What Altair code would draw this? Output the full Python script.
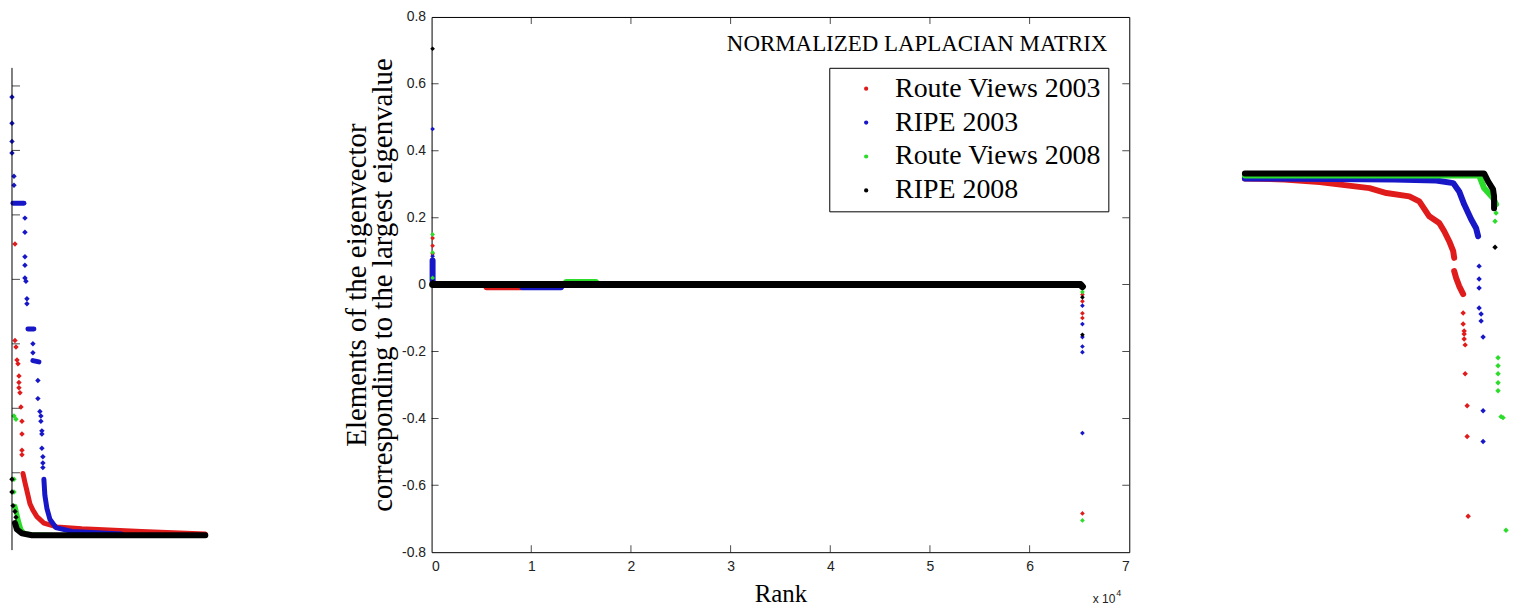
import altair as alt
import pandas as pd

# ---------------- data ----------------
SERIES = ["Route Views 2003", "RIPE 2003", "Route Views 2008", "RIPE 2008"]
COLORS = ["#e01b1b", "#1717c8", "#2bdc2b", "#000000"]

X_TICKS = [0, 10000, 20000, 30000, 40000, 50000, 60000, 70000]
Y_TICKS = [-0.8, -0.6, -0.4, -0.2, 0.0, 0.2, 0.4, 0.6, 0.8]
INSET_TICKS = [0.01, 0.02, 0.03, 0.04, 0.05, 0.06, 0.07]
INSET_AXIS = [(0, -0.002), (0, 0.0728)]

# main panel: (rank, element value)
M_RV03_DOTS = [(100, 0.139), (100, 0.116), (100, 0.092), (65300, -0.03), (65300, -0.05),
               (65300, -0.086), (65300, -0.10), (65300, -0.684)]
M_RV03_RUNS = [[(150, 0.0), (5400, 0.0), (5500, -0.008), (9000, -0.008), (9100, 0.0), (65100, 0.0)]]
M_RIPE03_DOTS = [(100, 0.465), (100, 0.085), (65300, -0.063), (65300, -0.118), (65300, -0.157),
                 (65300, -0.185), (65300, -0.202), (65300, -0.444)]
M_RIPE03_RUNS = [[(100, 0.072), (100, 0.012), (200, 0.0)],
                 [(150, 0.0), (9000, 0.0), (9100, -0.008), (13000, -0.008), (13100, 0.0), (65100, 0.0)]]
M_RV08_DOTS = [(100, 0.150), (100, 0.096), (100, 0.020), (65300, -0.012), (65300, -0.022), (65300, -0.705)]
M_RV08_RUNS = [[(150, 0.0), (13400, 0.0), (13500, 0.008), (16500, 0.008), (16600, 0.0), (65100, 0.0)]]
M_RIPE08_DOTS = [(100, 0.705), (100, 0.008), (65300, -0.038), (65300, -0.150)]
M_RIPE08_RUNS = [[(100, 0.0), (65100, 0.0), (65300, -0.006)]]

# left inset (head of the ranking)
L_RV03_DOTS = [(3, 0.0455), (3, 0.0305), (4, 0.0295), (5, 0.0275), (6, 0.0269), (7, 0.0250), (7, 0.0240),
               (7, 0.0232), (8, 0.0224), (9, 0.0202), (10, 0.0180), (10, 0.0160), (10, 0.0135), (10, 0.0128)]
L_RV03_RUNS = [[(11, 0.0099), (13, 0.0085), (15, 0.0072), (18, 0.0052), (21, 0.0042), (25, 0.0032),
                (32, 0.0022), (45, 0.0016), (70, 0.0013), (130, 0.0009), (194, 0.0005)]]
L_RIPE03_DOTS = [(0, 0.0683), (0, 0.0642), (0, 0.0614), (0, 0.0596), (2, 0.0560), (2, 0.0546), (13, 0.0495),
                 (13, 0.0473), (13, 0.0435), (13, 0.0422), (13, 0.0402), (14, 0.0397), (15, 0.0370), (15, 0.0362),
                 (21, 0.0300), (21, 0.0286), (26, 0.0243), (26, 0.0215), (28, 0.0195), (29, 0.0188), (29, 0.0180),
                 (30, 0.0165), (30, 0.0160), (30, 0.0138), (31, 0.0125), (31, 0.0115), (31, 0.0108)]
L_RIPE03_RUNS = [[(1, 0.0518), (12, 0.0518)], [(16, 0.0323), (22, 0.0323)], [(21, 0.0274), (27, 0.0272)],
                 [(32, 0.0090), (33, 0.0065), (35, 0.0045), (38, 0.0028), (44, 0.0015), (60, 0.0009), (110, 0.0005)]]
L_RV08_DOTS = [(2, 0.0188), (4, 0.0183), (2, 0.0090), (2, 0.0070)]
L_RV08_RUNS = [[(3, 0.0048), (5, 0.0035), (7, 0.0022), (9, 0.0012), (12, 0.0006), (20, 0.0004), (40, 0.0003)]]
L_RIPE08_DOTS = [(0, 0.0090), (0, 0.0070), (1, 0.0049), (3, 0.0040), (4, 0.0031)]
L_RIPE08_RUNS = [[(3, 0.0022), (5, 0.0012), (10, 0.0006), (20, 0.0003), (194, 0.0003)]]

# right inset (tail of the ranking)
R_RV03_DOTS = [(219, -0.140), (219, -0.151), (220, -0.158), (220, -0.161), (220, -0.166), (221, -0.172),
               (221, -0.201), (223, -0.233), (223, -0.264), (224, -0.344)]
R_RV03_RUNS = [[(0, -0.005), (40, -0.006), (75, -0.0087), (125, -0.0147), (142, -0.0197), (165, -0.023),
                (175, -0.028), (185, -0.043), (195, -0.0497), (200, -0.058), (205, -0.068), (209, -0.078),
                (210, -0.0847)],
               [(210, -0.098), (212, -0.105), (215, -0.113), (219, -0.121)]]
R_RIPE03_DOTS = [(235, -0.093), (235, -0.106), (235, -0.115), (235, -0.135), (237, -0.141), (237, -0.148),
                 (239, -0.164), (239, -0.238), (239, -0.269)]
R_RIPE03_RUNS = [[(0, -0.005), (150, -0.006), (192, -0.007), (209, -0.0097), (215, -0.018), (220, -0.031),
                  (227, -0.046), (232, -0.055), (234, -0.063)]]
R_RV08_DOTS = [(252, -0.0397), (251, -0.048), (254, -0.185), (254, -0.193), (254, -0.201), (254, -0.210),
               (254, -0.218), (257, -0.244), (259, -0.245), (262, -0.358)]
R_RV08_RUNS = [[(0, -0.002), (235, -0.002), (240, -0.0147), (249, -0.0247), (252, -0.031)]]
R_RIPE08_DOTS = [(251, -0.074)]
R_RIPE08_RUNS = [[(0, 0.0), (240, 0.0), (244, -0.008), (249, -0.016), (250, -0.023), (250, -0.035)]]

SERIF = "Liberation Serif"
SANS = "Liberation Sans"

color_scale = alt.Scale(domain=SERIES, range=COLORS)


def dots_df(name, pts):
    return pd.DataFrame([{"series": name, "rank": r, "value": v} for r, v in pts])


def runs_df(name, runs):
    rows = []
    k = 0
    for j, run in enumerate(runs):
        for r, v in run:
            rows.append({"series": name, "run": j, "idx": k, "rank": r, "value": v})
            k += 1
    return pd.DataFrame(rows)


def series_layers(all_dots, all_runs, xenc, yenc, legend, lw, lw_black, dsize):
    layers = []
    for i, name in enumerate(SERIES):
        col = alt.Color("series:N", scale=color_scale, legend=legend)
        width = lw_black if i == 3 else lw
        layers.append(
            alt.Chart(runs_df(name, all_runs[i])).mark_line(
                strokeWidth=width, strokeCap="round", strokeJoin="round"
            ).encode(x=xenc, y=yenc, color=col, detail="run:N", order="idx:Q")
        )
        layers.append(
            alt.Chart(dots_df(name, all_dots[i])).mark_point(
                shape="diamond", filled=True, size=dsize, opacity=1
            ).encode(x=xenc, y=yenc, color=col)
        )
    return layers


# ---------------- main panel ----------------
mx = alt.X("rank:Q", scale=alt.Scale(domain=[0, 70000], nice=False, zero=False),
           axis=alt.Axis(values=X_TICKS, labelExpr="datum.value / 10000", title="Rank",
                         domain=False, ticks=False, grid=False, labelFont=SANS, labelFontSize=14,
                         labelColor="#222", labelPadding=7, titleFont=SERIF, titleFontSize=25,
                         titleFontWeight="normal", titleColor="black", titlePadding=8))
my = alt.Y("value:Q", scale=alt.Scale(domain=[-0.8, 0.8], nice=False, zero=False),
           axis=alt.Axis(values=Y_TICKS, labelExpr="toString(round(datum.value * 10) / 10)",
                         title=["Elements of the eigenvector", "corresponding to the largest eigenvalue"],
                         domain=False, ticks=False, grid=False, labelFont=SANS, labelFontSize=14,
                         labelColor="#222", labelPadding=6, titleFont=SERIF, titleFontSize=29,
                         titleLineHeight=26, titleFontWeight="normal", titleColor="black", titlePadding=4))

main_legend = alt.Legend(title=None, orient="none", legendX=399, legendY=51, padding=7, symbolOffset=16,
                         labelOffset=15, labelFont=SERIF, labelFontSize=28, labelColor="black",
                         rowPadding=6, strokeColor="black", fillColor="white", symbolType="circle",
                         symbolSize=18, symbolStrokeWidth=0, labelLimit=400)

main_layers = series_layers(
    [M_RV03_DOTS, M_RIPE03_DOTS, M_RV08_DOTS, M_RIPE08_DOTS],
    [M_RV03_RUNS, M_RIPE03_RUNS, M_RV08_RUNS, M_RIPE08_RUNS],
    mx, my, main_legend, 6, 7, 22)

xt_rows = [{"rank": t, "value": y} for t in X_TICKS[1:-1] for y in (-0.8, 0.8)]
yt_rows = [{"rank": x, "value": t} for t in Y_TICKS[1:-1] for x in (0, 70000)]
xticks = alt.Chart(pd.DataFrame(xt_rows)).mark_tick(orient="vertical", size=14, thickness=1,
                                                     color="black", clip=True).encode(x=mx, y=my)
yticks = alt.Chart(pd.DataFrame(yt_rows)).mark_tick(orient="horizontal", size=14, thickness=1,
                                                     color="black", clip=True).encode(x=mx, y=my)

title_txt = alt.Chart(pd.DataFrame([{"rank": 67800, "value": 0.72, "t": "NORMALIZED LAPLACIAN MATRIX"}])) \
    .mark_text(align="right", baseline="middle", font=SERIF, fontSize=23, color="black") \
    .encode(x=mx, y=my, text="t:N")
exp_base = alt.Chart(pd.DataFrame([{"rank": 70000, "value": -0.8, "t": "x 10"}])) \
    .mark_text(align="right", baseline="alphabetic", dx=-14, dy=51, font=SANS, fontSize=12, color="#222") \
    .encode(x=mx, y=my, text="t:N")
exp_sup = alt.Chart(pd.DataFrame([{"rank": 70000, "value": -0.8, "t": "4"}])) \
    .mark_text(align="left", baseline="alphabetic", dx=-13, dy=44, font=SANS, fontSize=9, color="#222") \
    .encode(x=mx, y=my, text="t:N")

main = alt.layer(*main_layers, xticks, yticks, title_txt, exp_base, exp_sup).properties(
    width=700, height=537, view=alt.ViewBackground(stroke="black", strokeWidth=1))

# ---------------- left inset ----------------
lx = alt.X("rank:Q", scale=alt.Scale(domain=[0, 305], nice=False, zero=False), axis=None)
ly = alt.Y("value:Q", scale=alt.Scale(domain=[-0.00232, 0.0807], nice=False, zero=False), axis=None)
left_layers = series_layers(
    [L_RV03_DOTS, L_RIPE03_DOTS, L_RV08_DOTS, L_RIPE08_DOTS],
    [L_RV03_RUNS, L_RIPE03_RUNS, L_RV08_RUNS, L_RIPE08_RUNS],
    lx, ly, None, 5, 6, 30)
l_axis = alt.Chart(pd.DataFrame([{"rank": r, "value": v, "run": 0} for r, v in INSET_AXIS])) \
    .mark_line(color="black", strokeWidth=1).encode(x=lx, y=ly, order="value:Q")
l_ticks = alt.Chart(pd.DataFrame([{"rank": 0, "value": t} for t in INSET_TICKS])) \
    .mark_tick(orient="horizontal", size=8, thickness=1, color="black", xOffset=4).encode(x=lx, y=ly)
left = alt.layer(*left_layers, l_axis, l_ticks).properties(
    width=305, height=537, view=alt.ViewBackground(strokeWidth=0))

# ---------------- right inset ----------------
rx = alt.X("rank:Q", scale=alt.Scale(domain=[0, 268], nice=False, zero=False), axis=None)
ry = alt.Y("value:Q", scale=alt.Scale(domain=[-0.380, 0.157], nice=False, zero=False), axis=None)
right_layers = series_layers(
    [R_RV03_DOTS, R_RIPE03_DOTS, R_RV08_DOTS, R_RIPE08_DOTS],
    [R_RV03_RUNS, R_RIPE03_RUNS, R_RV08_RUNS, R_RIPE08_RUNS],
    rx, ry, None, 6, 6, 30)
right = alt.layer(*right_layers).properties(
    width=268, height=537, view=alt.ViewBackground(strokeWidth=0))

chart = alt.hconcat(left, main, right, spacing=116, bounds="flush").resolve_scale(
    color="independent").resolve_legend(color="independent").properties(
    padding={"left": 1, "top": 0, "right": 0, "bottom": 0}, background="white"
).configure_view(strokeWidth=0)

chart.save("out.html", embed_options={"renderer": "svg", "actions": False})
